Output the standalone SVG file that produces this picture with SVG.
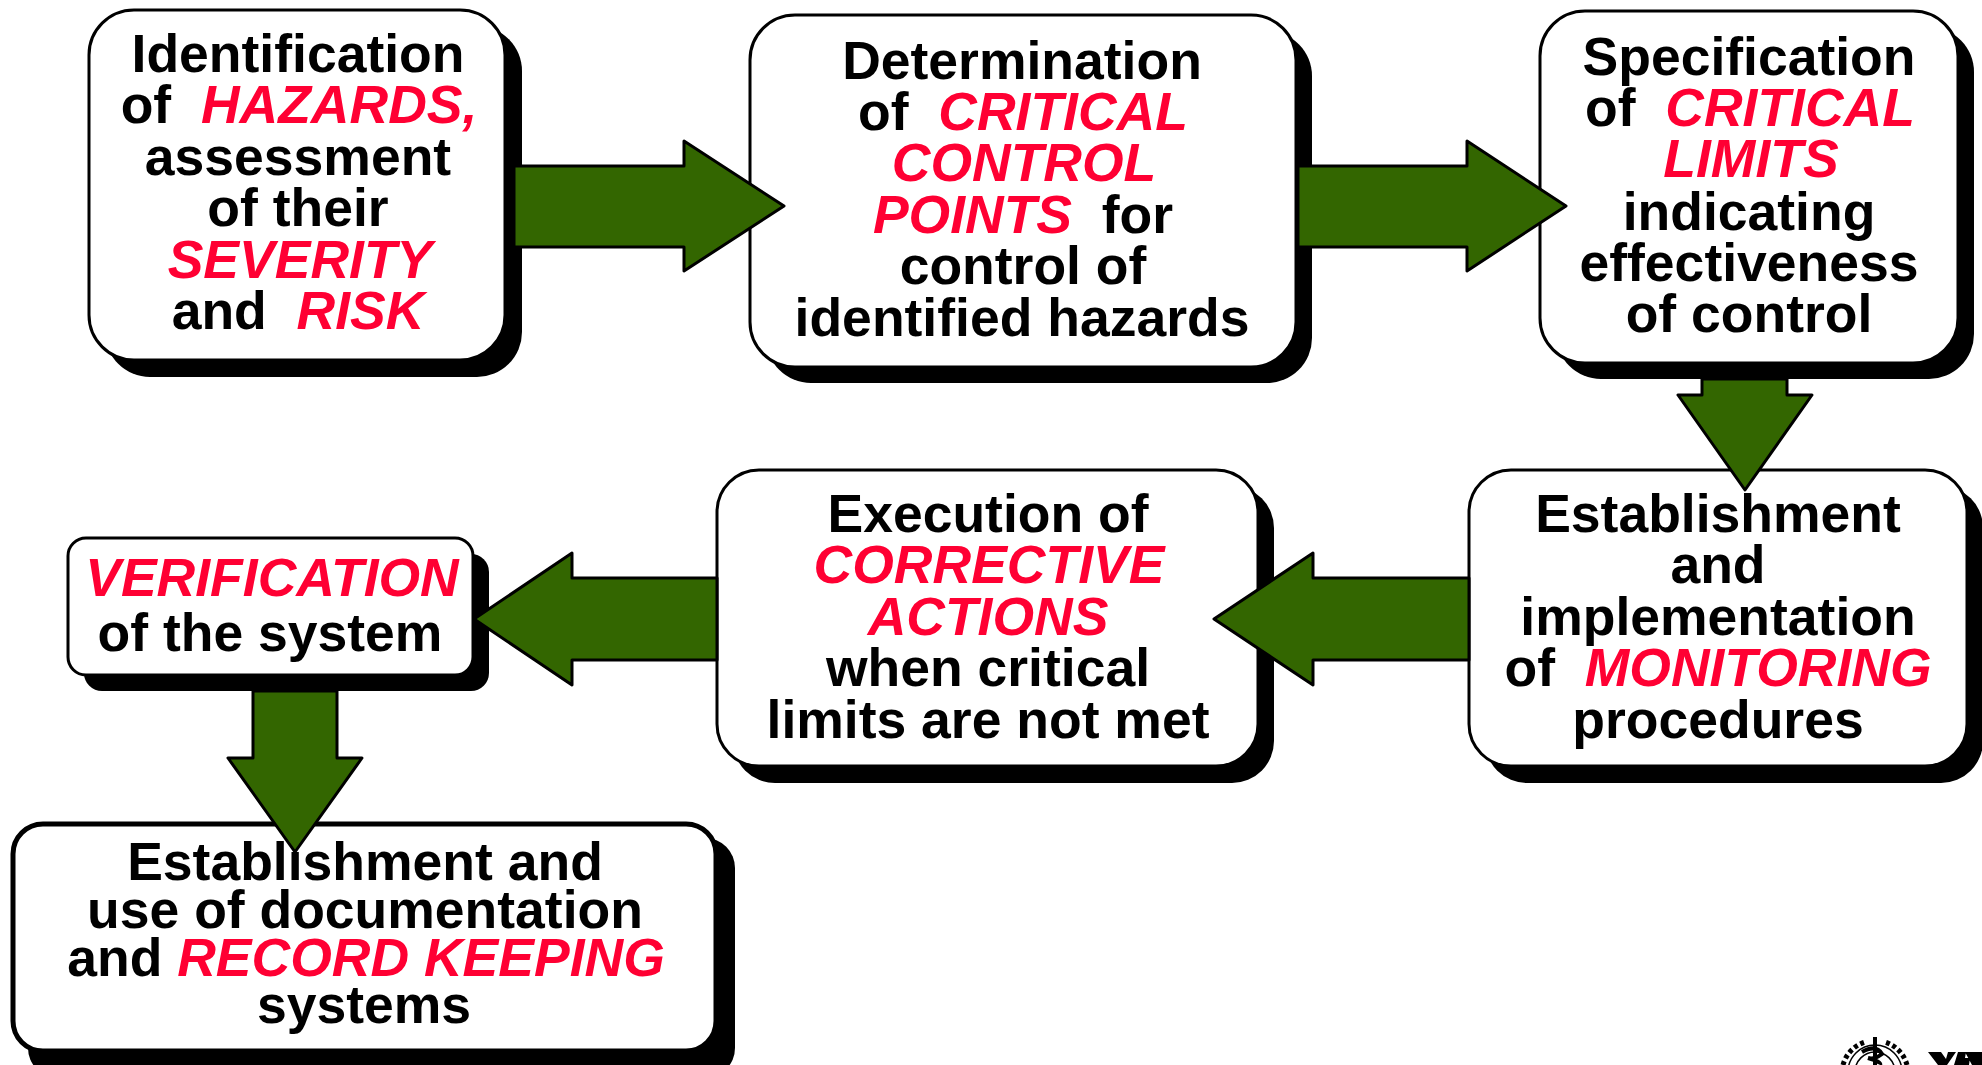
<svg xmlns="http://www.w3.org/2000/svg" width="1982" height="1065" viewBox="0 0 1982 1065">
<style>
.box{fill:#fff;stroke:#000;stroke-width:3}
.sh{fill:#000}
.arrow{fill:#336600;stroke:#000;stroke-width:3;stroke-linejoin:round}
text{font-family:"Liberation Sans",Arial,sans-serif;font-weight:700;font-size:53.5px;text-anchor:middle;fill:#000;white-space:pre}
.r{fill:#ff0033;font-style:italic}
</style>
<rect width="1982" height="1065" fill="#fff"/>
<g id="node-hazards">
<rect class="sh" x="105" y="26" width="417" height="351" rx="45"/>
<rect class="box" x="89" y="10" width="416" height="350" rx="45"/>
<text x="298" y="72">Identification</text>
<text x="299" y="123">of  <tspan class="r">HAZARDS,</tspan></text>
<text x="298" y="175">assessment</text>
<text x="298" y="226">of their</text>
<text x="300" y="278" class="r">SEVERITY</text>
<text x="298" y="329">and  <tspan class="r">RISK</tspan></text>
</g>
<g id="node-ccp">
<rect class="sh" x="766" y="31" width="546" height="352" rx="45"/>
<rect class="box" x="750" y="15" width="546" height="352" rx="45"/>
<text x="1022" y="79">Determination</text>
<text x="1023" y="130">of  <tspan class="r">CRITICAL</tspan></text>
<text x="1024" y="181" class="r">CONTROL</text>
<text x="1023" y="233"><tspan class="r">POINTS</tspan>  for</text>
<text x="1023" y="284">control of</text>
<text x="1022" y="336">identified hazards</text>
</g>
<g id="node-limits">
<rect class="sh" x="1556" y="27" width="418" height="352" rx="45"/>
<rect class="box" x="1540" y="11" width="418" height="352" rx="45"/>
<text x="1749" y="75">Specification</text>
<text x="1750" y="126">of  <tspan class="r">CRITICAL</tspan></text>
<text x="1751" y="177" class="r">LIMITS</text>
<text x="1749" y="230">indicating</text>
<text x="1749" y="281">effectiveness</text>
<text x="1749" y="332">of control</text>
</g>
<g id="node-monitoring">
<rect class="sh" x="1485" y="486" width="498" height="297" rx="42"/>
<rect class="box" x="1469" y="470" width="498" height="296" rx="42"/>
<text x="1718" y="532">Establishment</text>
<text x="1718" y="583">and</text>
<text x="1718" y="635">implementation</text>
<text x="1718" y="686">of  <tspan class="r">MONITORING</tspan></text>
<text x="1718" y="738">procedures</text>
</g>
<g id="node-corrective">
<rect class="sh" x="733" y="486" width="541" height="297" rx="42"/>
<rect class="box" x="717" y="470" width="541" height="296" rx="42"/>
<text x="988" y="532">Execution of</text>
<text x="989" y="583" class="r">CORRECTIVE</text>
<text x="988" y="635" class="r">ACTIONS</text>
<text x="988" y="686">when critical</text>
<text x="988" y="738">limits are not met</text>
</g>
<g id="node-verification">
<rect class="sh" x="84" y="554" width="405" height="137" rx="18"/>
<rect class="box" x="68" y="538" width="405" height="137" rx="18"/>
<text x="272" y="596" class="r">VERIFICATION</text>
<text x="270" y="651">of the system</text>
</g>
<g id="node-records">
<rect class="sh" x="28" y="838" width="707" height="240" rx="30"/>
<rect class="box" style="stroke-width:5" x="13" y="824" width="703" height="227" rx="30"/>
<text x="365" y="880">Establishment and</text>
<text x="365" y="928">use of documentation</text>
<text x="366" y="976">and <tspan class="r">RECORD KEEPING</tspan></text>
<text x="364" y="1023">systems</text>
</g>
<g id="connectors">
<polygon class="arrow" points="514,166 684,166 684,141 784,206 684,271 684,247 514,247"/>
<polygon class="arrow" points="1298,166 1467,166 1467,141 1566,206 1467,271 1467,247 1298,247"/>
<polygon class="arrow" points="1702,379 1787,379 1787,395 1812,395 1745,490 1678,395 1702,395"/>
<polygon class="arrow" points="1469,578 1313,578 1313,553 1214,619 1313,685 1313,660 1469,660"/>
<polygon class="arrow" points="717,578 572,578 572,553 474,619 572,685 572,660 717,660"/>
<polygon class="arrow" points="253,691 337,691 337,758 362,758 295,852 228,758 253,758"/>
</g>
<g id="logos">
<g fill="none" stroke="#000" stroke-width="1.5">
<circle cx="1875" cy="1072" r="27"/><circle cx="1875" cy="1072" r="20"/>
<path stroke-width="5" stroke-dasharray="4 3" d="M1843 1065A33 33 0 0 1 1865 1042M1907 1065A33 33 0 0 0 1885 1042"/>
<path stroke-width="4" d="M1862 1052q14-8 20 2q-8 6-14 4q14 4 12 7"/>
</g>
<path d="M1875 1037v28" stroke="#000" stroke-width="4"/>
<path d="M1928 1052h13l5 7 2-7h8l-9 13h-9zM1958 1052h8l-1 6h5l-1 7h-15zM1965 1052h17v13h-10z" fill="#000"/>
</g>
</svg>
